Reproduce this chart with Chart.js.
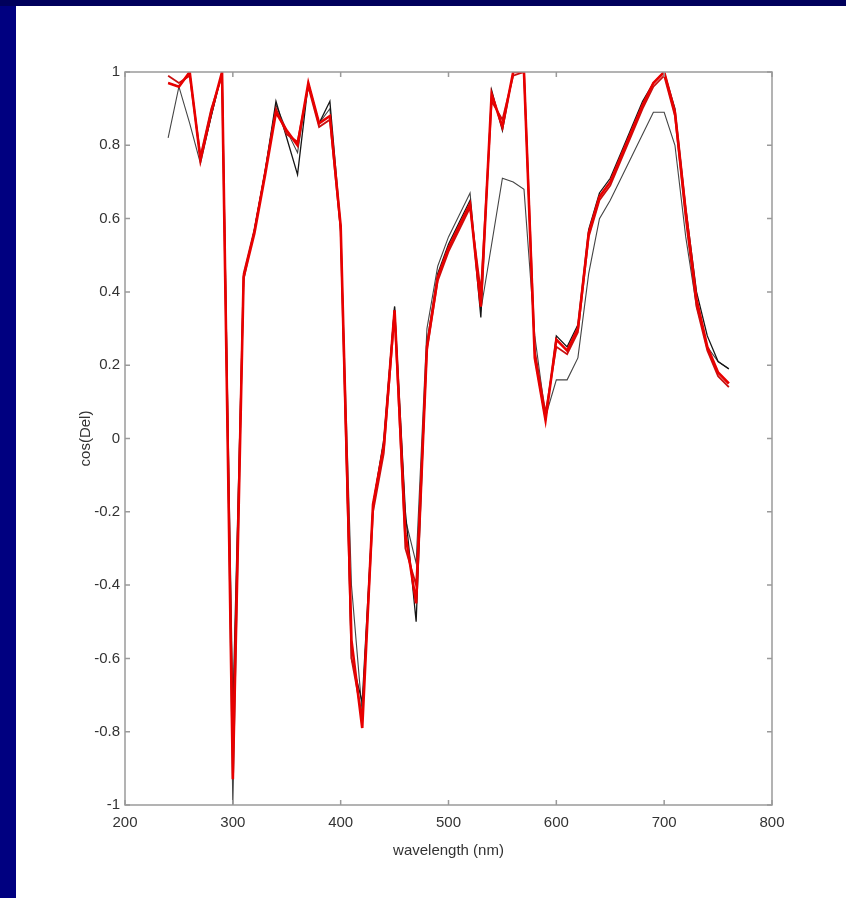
<!DOCTYPE html>
<html>
<head>
<meta charset="utf-8">
<script src="https://cdn.jsdelivr.net/npm/chart.js@4/dist/chart.umd.min.js"></script>
<style>
  html, body { margin: 0; padding: 0; background: #000080; overflow: hidden; }
  #topbar { position: absolute; left: 0; top: 0; width: 846px; height: 6px; background: #00005c; }
  #panel { position: absolute; left: 16px; top: 6px; width: 830px; height: 892px; background: #fff; }
  canvas { display: block; }
</style>
</head>
<body>
<div id="topbar"></div>
<div id="panel"><canvas id="spec" width="830" height="892"></canvas></div>
<script>
// wavelengths in nm
const wavelengths = [240, 250, 260, 270, 280, 290, 300, 310, 320, 330, 340, 350, 360, 370, 380, 390,
  400, 410, 420, 430, 440, 450, 460, 470, 480, 490, 500, 510, 520, 530, 540, 550, 560, 570, 580, 590,
  600, 610, 620, 630, 640, 650, 660, 670, 680, 690, 700, 710, 720, 730, 740, 750, 760];

const redA = [0.97, 0.96, 1.0, 0.76, 0.89, 1.0, -0.93, 0.44, 0.56, 0.72, 0.89, 0.84, 0.80, 0.97, 0.86, 0.88,
  0.58, -0.55, -0.79, -0.18, -0.02, 0.35, -0.26, -0.45, 0.25, 0.44, 0.52, 0.58, 0.64, 0.36, 0.94, 0.85, 1.0, 1.0, 0.22, 0.05,
  0.27, 0.24, 0.30, 0.56, 0.66, 0.70, 0.77, 0.84, 0.91, 0.97, 1.0, 0.89, 0.62, 0.38, 0.25, 0.18, 0.15];

const redB = [0.99, 0.97, 0.99, 0.77, 0.90, 0.99, -0.85, 0.45, 0.57, 0.73, 0.90, 0.83, 0.81, 0.96, 0.85, 0.87,
  0.57, -0.60, -0.76, -0.20, -0.04, 0.34, -0.30, -0.40, 0.24, 0.43, 0.51, 0.57, 0.63, 0.40, 0.92, 0.87, 0.99, 1.0, 0.24, 0.07,
  0.25, 0.23, 0.29, 0.55, 0.65, 0.69, 0.76, 0.83, 0.90, 0.96, 0.99, 0.88, 0.60, 0.36, 0.24, 0.17, 0.14];

const blackA = [0.97, 0.96, 1.0, 0.76, 0.88, 1.0, -0.75, 0.44, 0.57, 0.73, 0.92, 0.82, 0.72, 0.97, 0.86, 0.92,
  0.58, -0.60, -0.72, -0.18, -0.01, 0.36, -0.20, -0.50, 0.26, 0.45, 0.53, 0.59, 0.65, 0.33, 0.95, 0.84, 1.0, 1.0, 0.22, 0.05,
  0.28, 0.25, 0.31, 0.57, 0.67, 0.71, 0.78, 0.85, 0.92, 0.97, 1.0, 0.90, 0.63, 0.40, 0.28, 0.21, 0.19];

const blackB = [0.82, 0.96, 0.86, 0.75, 0.88, 1.0, -1.0, 0.43, 0.57, 0.73, 0.91, 0.84, 0.78, 0.97, 0.86, 0.90,
  0.56, -0.40, -0.75, -0.18, 0.0, 0.36, -0.22, -0.34, 0.30, 0.47, 0.55, 0.61, 0.67, 0.35, 0.53, 0.71, 0.70, 0.68, 0.28, 0.06,
  0.16, 0.16, 0.22, 0.45, 0.60, 0.65, 0.71, 0.77, 0.83, 0.89, 0.89, 0.80, 0.55, 0.36, 0.25, 0.21, 0.19];

const xTicks = [200, 300, 400, 500, 600, 700, 800];
const yTicks = [-1, -0.8, -0.6, -0.4, -0.2, 0, 0.2, 0.4, 0.6, 0.8, 1];

function pts(vals) {
  return wavelengths.map((w, i) => ({ x: w, y: vals[i] }));
}

// matlab style box with inward ticks on all four sides
const boxTicks = {
  id: 'boxTicks',
  afterDraw(chart) {
    const ctx = chart.ctx;
    const a = chart.chartArea;
    const xs = chart.scales.x, ys = chart.scales.y;
    const len = 5;
    ctx.save();
    ctx.strokeStyle = '#9a9a9a';
    ctx.lineWidth = 1.5;
    ctx.strokeRect(a.left, a.top, a.right - a.left, a.bottom - a.top);
    ctx.beginPath();
    xTicks.forEach(v => {
      const px = xs.getPixelForValue(v);
      ctx.moveTo(px, a.bottom); ctx.lineTo(px, a.bottom - len);
      ctx.moveTo(px, a.top); ctx.lineTo(px, a.top + len);
    });
    yTicks.forEach(v => {
      const py = ys.getPixelForValue(v);
      ctx.moveTo(a.left, py); ctx.lineTo(a.left + len, py);
      ctx.moveTo(a.right, py); ctx.lineTo(a.right - len, py);
    });
    ctx.stroke();
    ctx.restore();
  }
};

const font = { family: 'Liberation Sans, Arial, sans-serif', size: 15 };

new Chart(document.getElementById('spec').getContext('2d'), {
  type: 'line',
  data: {
    datasets: [
      { data: pts(redA), borderColor: '#e80000', borderWidth: 2.6 },
      { data: pts(redB), borderColor: '#c81010', borderWidth: 1.8 },
      { data: pts(blackA), borderColor: '#151515', borderWidth: 1.3 },
      { data: pts(blackB), borderColor: '#444444', borderWidth: 1.1 }
    ]
  },
  options: {
    responsive: false,
    animation: false,
    elements: { point: { radius: 0 }, line: { tension: 0 } },
    layout: { padding: { left: 57, top: 66, right: 74, bottom: 34 } },
    plugins: { legend: { display: false }, tooltip: { enabled: false } },
    scales: {
      x: {
        type: 'linear',
        min: 200, max: 800,
        afterFit(s) { s.height = 59; },
        afterBuildTicks(s) { s.ticks = xTicks.map(v => ({ value: v })); },
        grid: { drawOnChartArea: false, drawTicks: false },
        border: { display: false },
        ticks: { color: '#333', font: font, padding: 9 },
        title: { display: true, text: 'wavelength (nm)', color: '#333', font: font, padding: 4 }
      },
      y: {
        min: -1, max: 1,
        afterFit(s) { s.width = 52; },
        afterBuildTicks(s) { s.ticks = yTicks.map(v => ({ value: v })); },
        grid: { drawOnChartArea: false, drawTicks: false },
        border: { display: false },
        ticks: { color: '#333', font: font, padding: 5, callback: v => String(Math.round(v * 10) / 10) },
        title: { display: true, text: 'cos(Del)', color: '#333', font: font, padding: 4 }
      }
    }
  },
  plugins: [boxTicks]
});
</script>
</body>
</html>
